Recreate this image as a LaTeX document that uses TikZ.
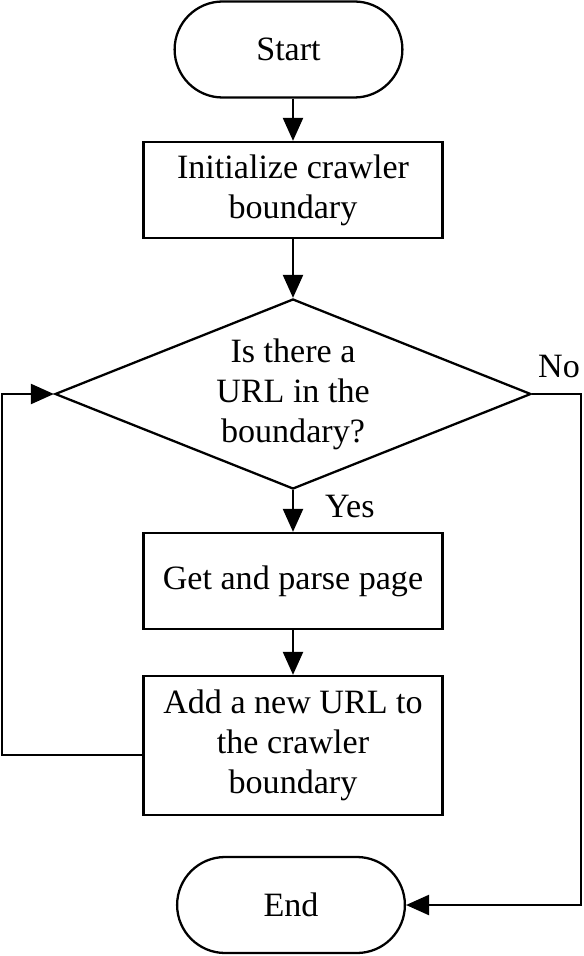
\documentclass[tikz,border=0pt]{standalone}
\usepackage{fontspec}
\setmainfont{Liberation Serif}
\usetikzlibrary{arrows.meta,shapes.geometric,shapes.misc}
\tikzset{
  pfeil/.style={-{Triangle[length=4.6mm,width=4mm]},line width=1.3pt},
  kasten/.style={draw,line width=1.3pt,minimum width=5.98cm,align=center,inner sep=0pt},
  terminal/.style={draw,rounded rectangle,line width=1.3pt,minimum width=4.79cm,minimum height=1.92cm},
  raute/.style={draw,diamond,aspect=2.5,line width=1.3pt,minimum width=9.52cm,minimum height=3.8cm,inner sep=0pt,align=center},
}

\begin{document}
\begin{tikzpicture}[font=\fontsize{19.4}{22.8}\selectfont]
  \useasboundingbox (0,0) rectangle (11.66,-19.12);
  \node[terminal] (start) at (5.77,-0.99) {Start};
  \node[kasten,minimum height=1.92cm] (init) at (5.86,-3.8) {Initialize crawler\\boundary};
  \node[raute] (frage) at (5.86,-7.88) {Is there a\\URL in the\\boundary?};
  \node[kasten,minimum height=1.92cm] (holen) at (5.86,-11.62) {Get and parse page};
  \node[kasten,minimum height=2.78cm] (neu) at (5.86,-14.91) {Add a new URL to\\the crawler\\boundary};
  \node[terminal] (ende) at (5.82,-18.1) {End};
  \coordinate (links) at (0.04,0);
  \coordinate (rechts) at (11.62,0);
  \draw[pfeil] (init.north |- start.south) -- (init.north);
  \draw[pfeil] (init) -- (frage);
  \draw[pfeil] (frage.south) -- (holen.north) node[right=0.5cm,pos=0.4]{Yes};
  \draw[pfeil] (holen) -- (neu);
  \draw[pfeil] ([yshift=-0.19cm]neu.west) -- ([yshift=-0.19cm]neu.west -| links) |- (frage.west);
  \draw[pfeil] (frage.east) -- (frage.east -| rechts) node[above,pos=0.55,yshift=0.18cm]{No} |- (ende.east);
\end{tikzpicture}
\end{document}
